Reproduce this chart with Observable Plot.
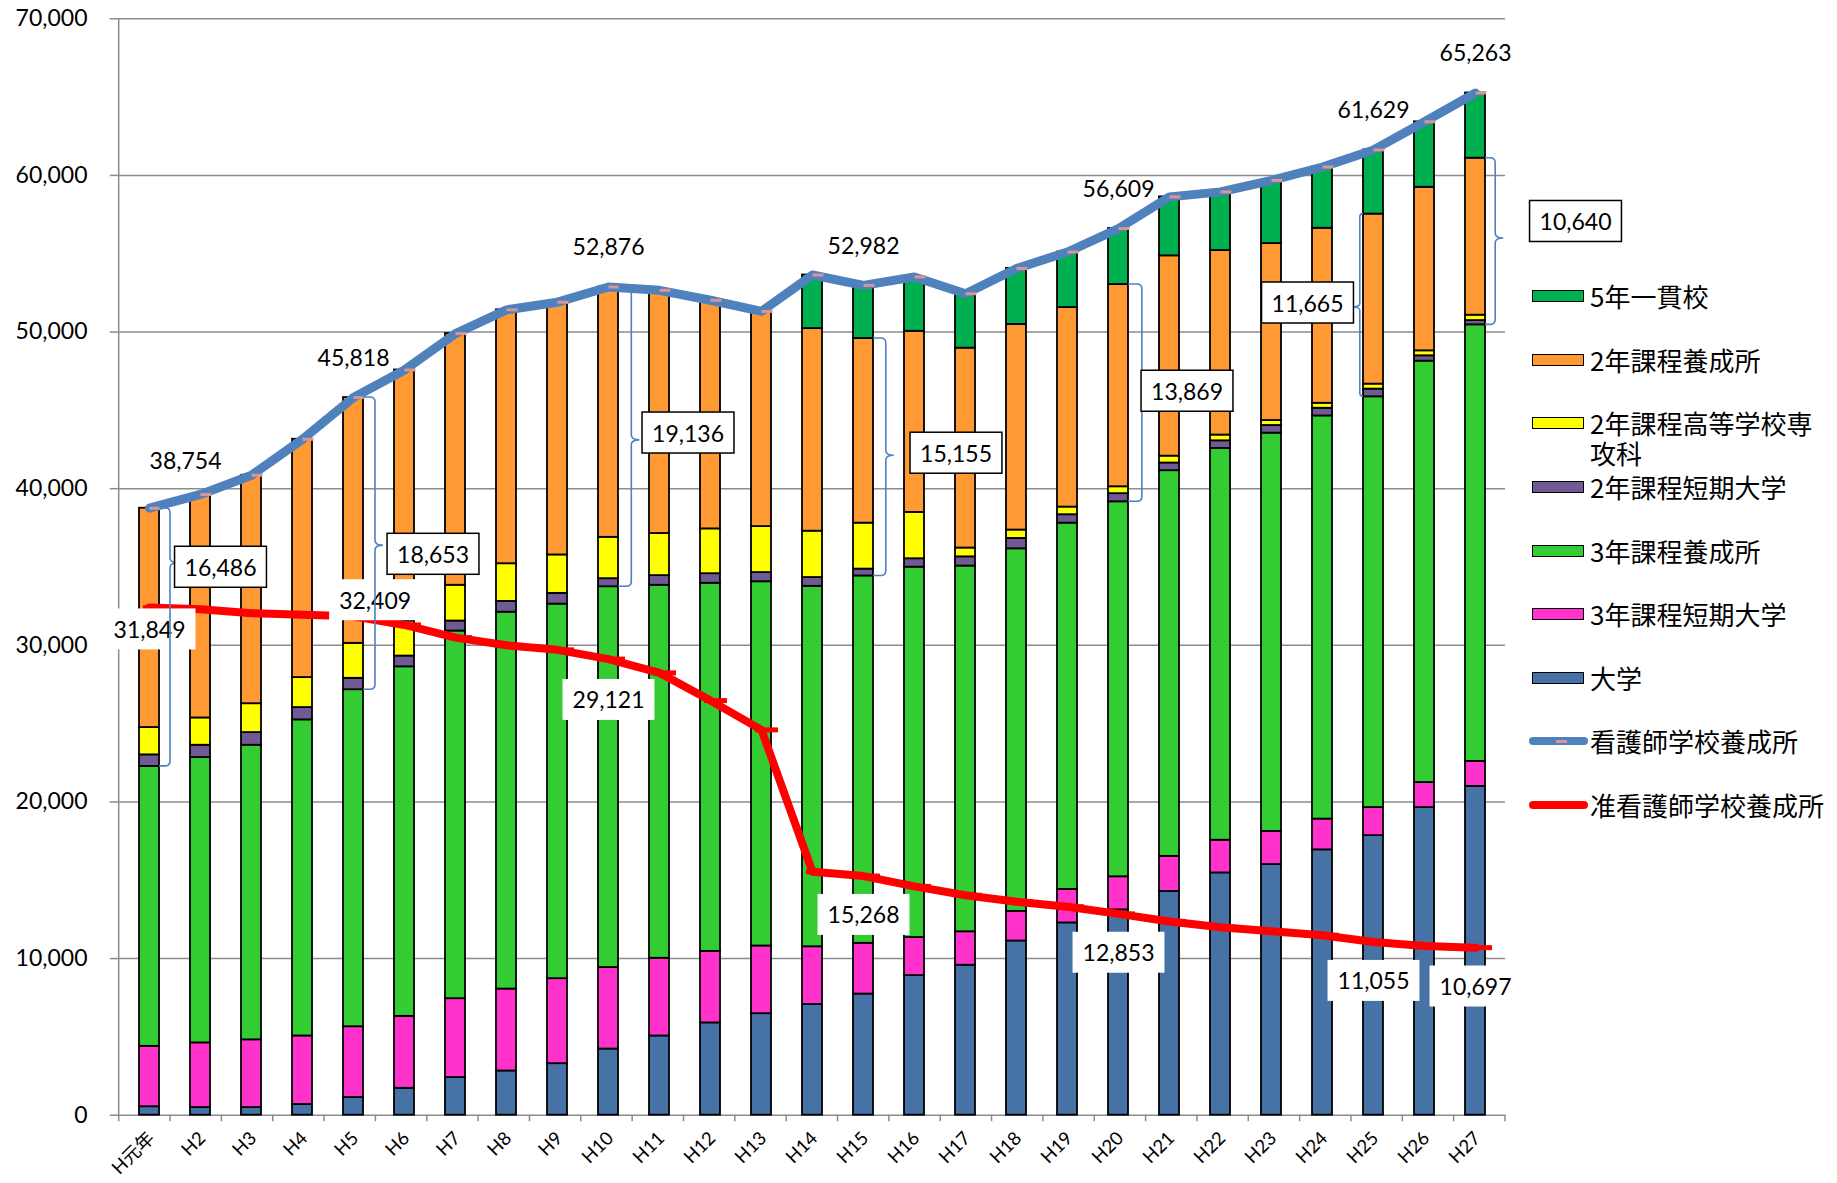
<!DOCTYPE html>
<html><head><meta charset="utf-8">
<script src="https://cdn.jsdelivr.net/npm/d3@7"></script>
<script src="https://cdn.jsdelivr.net/npm/@observablehq/plot@0.6"></script>
<style>
body{margin:0;background:#fff;}
#wrap{position:relative;width:1837px;height:1183px;overflow:hidden;}
#wrap svg{position:absolute;left:0;top:0;}
.lg{position:absolute;}
.lgtext{position:absolute;font-family:'Noto Sans CJK JP',sans-serif;font-size:26px;line-height:30px;color:#000;width:240px;white-space:normal;}
</style></head>
<body><div id="wrap"></div>
<script>
// ---------------- data ----------------
const categories = ["H元年","H2","H3","H4","H5","H6","H7","H8","H9","H10","H11","H12","H13","H14","H15","H16","H17","H18","H19","H20","H21","H22","H23","H24","H25","H26","H27"];
const seriesNames = ["大学","3年課程短期大学","3年課程養成所","2年課程短期大学","2年課程高等学校専攻科","2年課程養成所","5年一貫校"];
const seriesColors = ["#4672A6","#FF33CC","#33CC33","#6F5A94","#FFFF00","#FF9933","#00B050"];

const daigaku = [540,490,490,687,1129,1719,2406,2823,3290,4223,5058,5893,6482,7071,7734,8913,9575,11122,12276,13111,14289,15468,16008,16941,17850,19642,20992];
const tanki3  = [3855,4126,4322,4371,4518,4591,5033,5230,5426,5205,4959,4566,4321,3683,3241,2430,2136,1890,2136,2111,2235,2087,2111,1964,1791,1596,1596];
const yousei3 = [17873,18217,18807,20181,21518,22318,23472,24061,23914,24312,23816,23502,23256,23011,23454,23645,23350,23149,23387,23941,24625,25012,25426,25740,26225,26904,27872];
const tanki2  = [737,786,810,786,726,687,638,687,687,514,617,611,586,563,437,538,587,661,538,519,489,489,489,489,491,342,273];
const koukou2 = [1745,1743,1842,1915,2234,2234,2284,2407,2453,2641,2689,2861,2934,2958,2934,2958,562,537,489,440,440,367,318,318,318,318,343];
const yousei2 = [14004,14271,14585,15214,15693,16030,16069,16210,16137,15981,15526,14596,13741,12934,11784,11565,12763,13130,12739,12910,12788,11785,11296,11174,10856,10440,10024];
const ikkan5  = [0,0,0,0,0,0,0,0,0,0,0,0,0,3423,3398,3472,3472,3570,3545,3577,3765,3741,4034,3912,4098,4181,4163];
const junkango = [32409,32300,32050,31950,31849,31300,30490,30000,29710,29121,28240,26470,24600,15540,15268,14610,14040,13630,13310,12853,12370,12000,11740,11490,11055,10800,10697];

const yTicks = [0,10000,20000,30000,40000,50000,60000,70000];
const totalLabelCats = ["H元年","H5","H10","H15","H20","H25","H27"];
const bracketCats = ["H元年","H5","H10","H15","H20","H25","H27"];
const redLabelCats = ["H元年","H5","H10","H15","H20","H25","H27"];
const redLabelTexts = ["31,849","32,409","29,121","15,268","12,853","11,055","10,697"];

const lineNames = ["看護師学校養成所","准看護師学校養成所"];

// ---------------- derived tables ----------------
const seriesValues = [daigaku,tanki3,yousei3,tanki2,koukou2,yousei2,ikkan5];
const rows = [];
seriesNames.forEach((s,k)=>categories.forEach((c,i)=>{const v=seriesValues[k][i]; if(v>0) rows.push({cat:c,series:s,value:v});}));
const totals = categories.map((c,i)=>({cat:c,value:d3.sum(seriesValues,a=>a[i])}));
const redPts = categories.map((c,i)=>({cat:c,value:junkango[i]}));
const idx = c => categories.indexOf(c);
const cum3 = i => daigaku[i]+tanki3[i]+yousei3[i];
const two = i => tanki2[i]+koukou2[i]+yousei2[i];
const fmt = d3.format(",");

// ---------------- layout (offsets in px) ----------------
const FONT = "Lato, 'Noto Sans CJK JP', sans-serif";
const totalOff = {"H元年":[36,-47]};
const redOff = {"H元年":[0,23],"H5":[21.6,-15],"H10":[0,42]};
const brLayout = {
  "H元年":{dx:71,dy:-68.9,side:1,gap:21,ptr:-74},
  "H5":{dx:79.5,dy:11.8,side:1,gap:22,ptr:2},
  "H10":{dx:79.5,dy:-2.7,side:1,gap:23.3,ptr:3.5},
  "H15":{dx:92.5,dy:-2.9,side:1,gap:22.8,ptr:-1.5},
  "H20":{dx:68.5,dy:-0.8,side:1,gap:23.9,ptr:-5.5},
  "H25":{dx:-66,dy:-1.3,side:-1,gap:13.2,ptr:2},
  "H27":{dx:100,dy:-18.9,side:1,gap:20.2,ptr:-3}
};

const labelMarks = [];
totalLabelCats.forEach(c=>{
  const [dx,dy] = totalOff[c] || [0,-39];
  labelMarks.push(Plot.text([totals[idx(c)]],{x:"cat",y:"value",text:d=>fmt(d.value),dx,dy,fontSize:23,fill:"#000",fontFamily:FONT}));
});
redLabelCats.forEach((c,k)=>{
  const [dx,dy] = redOff[c] || [0,40];
  labelMarks.push(Plot.text([redPts[idx(c)]],{x:"cat",y:"value",text:()=>redLabelTexts[k],dx,dy,fontSize:23,fill:"#000",fontFamily:FONT,ariaDescription:"whitebox"}));
});
const borderMarks = bracketCats.map(c=>{
  const i = idx(c), L = brLayout[c];
  const d = {cat:c, mid:cum3(i)+two(i)/2, value:two(i)};
  return Plot.text([d],{x:"cat",y:"mid",text:d=>fmt(d.value),dx:L.dx,dy:L.dy,fontSize:23,fill:"#000",fontFamily:FONT,ariaDescription:"borderbox"});
});

const W=1837,H=1183,ML=118.7,MR=332,MT=18.3,MB=68.3;

const plot = Plot.plot({
  width:W,height:H,marginLeft:ML,marginRight:MR,marginTop:MT,marginBottom:MB,
  style:{fontFamily:FONT,fontSize:"23px",background:"#fff",overflow:"visible"},
  x:{domain:categories,paddingInner:0.6,paddingOuter:0.3,label:null},
  y:{domain:[0,70000],label:null},
  color:{domain:seriesNames,range:seriesColors},
  marks:[
    Plot.ruleY(yTicks,{stroke:"#8c8c8c",strokeWidth:1.5}),
    Plot.axisY({ticks:yTicks,tickFormat:fmt,tickSize:9,tickPadding:22.7,stroke:"#8c8c8c",strokeWidth:1.5,color:"#000",fontSize:23,fontFamily:FONT,label:null}),
    Plot.axisX({tickRotate:-45,tickSize:0,tickPadding:20,fontSize:18.5,color:"#000",fontFamily:FONT,label:null,dx:2}),
    Plot.barY(rows,{x:"cat",y:"value",fill:"series",stroke:"#000",strokeWidth:1.8}),
    Plot.line(redPts,{x:"cat",y:"value",stroke:"#FF0000",strokeWidth:8,strokeLinejoin:"round",strokeLinecap:"round"}),
    Plot.tickY(redPts,{x:"cat",y:"value",stroke:"#FF0000",strokeWidth:5,insetLeft:-1.5,insetRight:-1.5,dx:5.5}),
    Plot.line(totals,{x:"cat",y:"value",stroke:"#4F81BD",strokeWidth:9,strokeLinejoin:"round",strokeLinecap:"round"}),
    Plot.tickY(totals,{x:"cat",y:"value",stroke:"#D99694",strokeWidth:3,insetLeft:4.5,insetRight:4.5,dx:6}),
    ...labelMarks,
    ...borderMarks
  ]
});
const wrap = document.getElementById("wrap");
wrap.appendChild(plot);

// ---------------- post-render decorations using Plot's scales ----------------
const svg = d3.select(plot);
const xs = plot.scale("x"), ys = plot.scale("y");
const r0 = xs.range[0], r1 = xs.range[1];
const n = categories.length, step = (r1-r0)/n, bw = xs.bandwidth;
const cx = c => xs.apply(c) + bw/2;
const py = v => ys.apply(v);
const yTop = py(70000), yBot = py(0);

const back = svg.insert("g",":first-child").attr("stroke","#8c8c8c").attr("stroke-width",1.5);
back.append("line").attr("x1",r0).attr("x2",r0).attr("y1",yTop).attr("y2",yBot+0.75);
d3.range(n+1).forEach(i=>back.append("line").attr("x1",r0+i*step).attr("x2",r0+i*step).attr("y1",yBot).attr("y2",yBot+6.5));

const brG = svg.insert("g",'g[aria-description="borderbox"]').attr("fill","none").attr("stroke","#4F81BD").attr("stroke-width",1.6);
bracketCats.forEach(c=>{
  const i = idx(c), L = brLayout[c], s = L.side, c0 = cx(c);
  const edge = c0 + s*bw/2, bx = c0 + s*L.gap;
  const top = py(cum3(i)+two(i)), bot = py(cum3(i));
  const mid = (top+bot)/2 + L.ptr;
  const r = Math.min(5, Math.abs(bx-edge)), p = 8;
  const d = `M${edge},${top} L${bx-s*r},${top} Q${bx},${top} ${bx},${top+r} L${bx},${mid-r} Q${bx},${mid} ${bx+s*p},${mid} Q${bx},${mid} ${bx},${mid+r} L${bx},${bot-r} Q${bx},${bot} ${bx-s*r},${bot} L${edge},${bot}`;
  brG.append("path").attr("d",d);
});

function boxify(desc, stroke){
  svg.selectAll(`g[aria-description="${desc}"] text`).each(function(){
    const b = this.getBBox(), px = 10, pyd = 6.5;
    const node = this;
    d3.select(this.parentNode).insert("rect",()=>node)
      .attr("x",b.x-px).attr("y",b.y-pyd).attr("width",b.width+2*px).attr("height",b.height+2*pyd)
      .attr("transform",this.getAttribute("transform"))
      .attr("fill","#fff").attr("stroke",stroke).attr("stroke-width",1.5);
  });
}
boxify("whitebox","none");
boxify("borderbox","#000");

// ---------------- legend ----------------
const legendEntries = [...seriesNames].reverse().map(s=>({name:s,kind:"rect",color:seriesColors[seriesNames.indexOf(s)]}))
  .concat([{name:lineNames[0],kind:"line",color:"#4F81BD",marker:"#D99694"},{name:lineNames[1],kind:"line",color:"#FF0000"}]);
legendEntries.forEach((e,k)=>{
  const cy = 296.2 + k*63.6;
  if(e.kind==="rect"){
    const sw=document.createElement("div"); sw.className="lg";
    Object.assign(sw.style,{left:"1532px",top:(cy-6)+"px",width:"52px",height:"12px",background:e.color,border:"1.5px solid #000",boxSizing:"border-box"});
    wrap.appendChild(sw);
  } else {
    const ln=document.createElement("div"); ln.className="lg";
    Object.assign(ln.style,{left:"1529px",top:(cy-4)+"px",width:"59px",height:"8px",background:e.color,borderRadius:"4px"});
    wrap.appendChild(ln);
    if(e.marker){const mk=document.createElement("div"); mk.className="lg";
      Object.assign(mk.style,{left:"1556px",top:(cy-1.5)+"px",width:"11px",height:"3px",background:e.marker}); wrap.appendChild(mk);}
  }
  const t=document.createElement("div"); t.className="lgtext"; t.textContent=e.name;
  Object.assign(t.style,{left:"1590px",top:(cy-15)+"px"});
  wrap.appendChild(t);
});
</script>
</body></html>
